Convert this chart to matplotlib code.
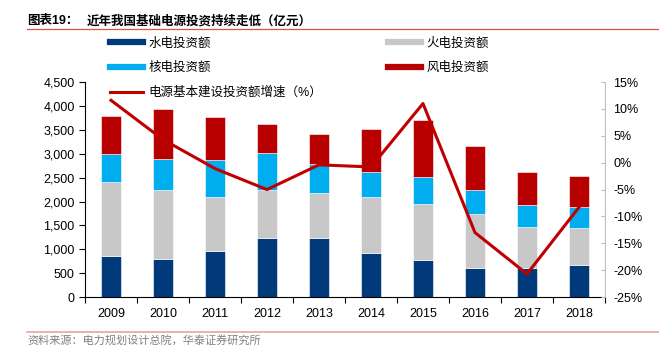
import numpy as np
import matplotlib
matplotlib.use("Agg")
import matplotlib.pyplot as plt
from matplotlib.lines import Line2D
from matplotlib.ticker import FuncFormatter

plt.rcParams["font.family"] = ["Liberation Sans", "Noto Sans CJK SC", "DejaVu Sans"]

years = ["2009", "2010", "2011", "2012", "2013", "2014", "2015", "2016", "2017", "2018"]
hydro = [860, 800, 955, 1230, 1235, 927, 775, 607, 607, 663]
thermal = [1555, 1440, 1145, 1010, 935, 1160, 1170, 1125, 865, 780]
nuclear = [580, 643, 762, 780, 614, 530, 566, 508, 454, 433]
wind = [795, 1046, 906, 607, 627, 907, 1199, 921, 685, 650]
growth = [11.6, 4.3, -1.1, -5.0, -0.4, -0.8, 11.0, -13.0, -20.7, -8.3]

c_hydro = "#003A7A"
c_thermal = "#C8C8C8"
c_nuclear = "#00AEEF"
c_wind = "#B80000"
c_line = "#C00000"

fig = plt.figure(figsize=(6.59, 3.52), dpi=100)
ax = fig.add_axes([0.129, 0.156, 0.789, 0.611])
ax2 = ax.twinx()

x = np.arange(len(years))
w = 0.4
edge = dict(edgecolor="white", linewidth=0.4)
ax.bar(x, hydro, w, color=c_hydro, **edge)
bottom = np.array(hydro)
ax.bar(x, thermal, w, bottom=bottom, color=c_thermal, **edge)
bottom = bottom + np.array(thermal)
ax.bar(x, nuclear, w, bottom=bottom, color=c_nuclear, **edge)
bottom = bottom + np.array(nuclear)
ax.bar(x, wind, w, bottom=bottom, color=c_wind, **edge)

ax2.plot(x, growth, color=c_line, linewidth=2.2)

ax.set_xlim(-0.5, len(years) - 0.5)
ax.set_ylim(0, 4500)
ax.set_yticks(np.arange(0, 4501, 500))
ax.yaxis.set_major_formatter(FuncFormatter(lambda v, p: f"{int(v):,}"))
ax2.set_ylim(-25, 15)
ax2.set_yticks(np.arange(-25, 16, 5))
ax2.yaxis.set_major_formatter(FuncFormatter(lambda v, p: f"{int(v)}%"))

# ticks between categories, labels centred on bars
ax.set_xticks(np.arange(-0.5, len(years), 1))
ax.set_xticklabels([])
ax.set_xticks(x, minor=True)
ax.set_xticklabels(years, minor=True)
ax.tick_params(axis="x", which="minor", length=0, labelsize=9, pad=8)
ax.tick_params(axis="x", which="major", length=4, direction="out", color="black")
ax.tick_params(axis="y", labelsize=9, length=4, direction="out")
ax2.tick_params(axis="y", labelsize=9, length=3, direction="in", color="#BFBFBF", pad=6)

ax.spines["top"].set_visible(False)
ax2.spines["top"].set_visible(False)
ax.spines["right"].set_visible(False)
ax2.spines["left"].set_visible(False)
ax2.spines["bottom"].set_visible(False)
ax2.spines["right"].set_color("#BFBFBF")

handles = [
    Line2D([], [], color=c_hydro, linewidth=4.5),
    Line2D([], [], color=c_nuclear, linewidth=4.5),
    Line2D([], [], color=c_line, linewidth=2.2),
    Line2D([], [], color=c_thermal, linewidth=4.5),
    Line2D([], [], color=c_wind, linewidth=4.5),
]
labels = ["水电投资额", "核电投资额", "电源基本建设投资额增速（%）", "火电投资额", "风电投资额"]
fig.legend(handles, labels, ncol=2, loc="upper left", bbox_to_anchor=(0.167, 0.893),
           frameon=False, fontsize=9, handlelength=2.6, handletextpad=0.45,
           labelspacing=0.98, columnspacing=5.3, borderaxespad=0, borderpad=0)

fig.text(0.041, 0.94, "图表19：", fontsize=9, fontweight="bold", va="center", ha="left")
fig.text(0.132, 0.94, "近年我国基础电源投资持续走低（亿元）", fontsize=9, fontweight="bold",
         va="center", ha="left")
fig.add_artist(Line2D([0.041, 1.0], [0.917, 0.917], color="#E0504A", linewidth=0.9,
                      transform=fig.transFigure))
fig.add_artist(Line2D([0.041, 1.0], [0.057, 0.057], color="#F0A09C", linewidth=1.2,
                      transform=fig.transFigure))
fig.text(0.041, 0.015, "资料来源：电力规划设计总院，华泰证券研究所", fontsize=8,
         color="#808080", va="bottom", ha="left")

fig.savefig("out.png", dpi=100)
